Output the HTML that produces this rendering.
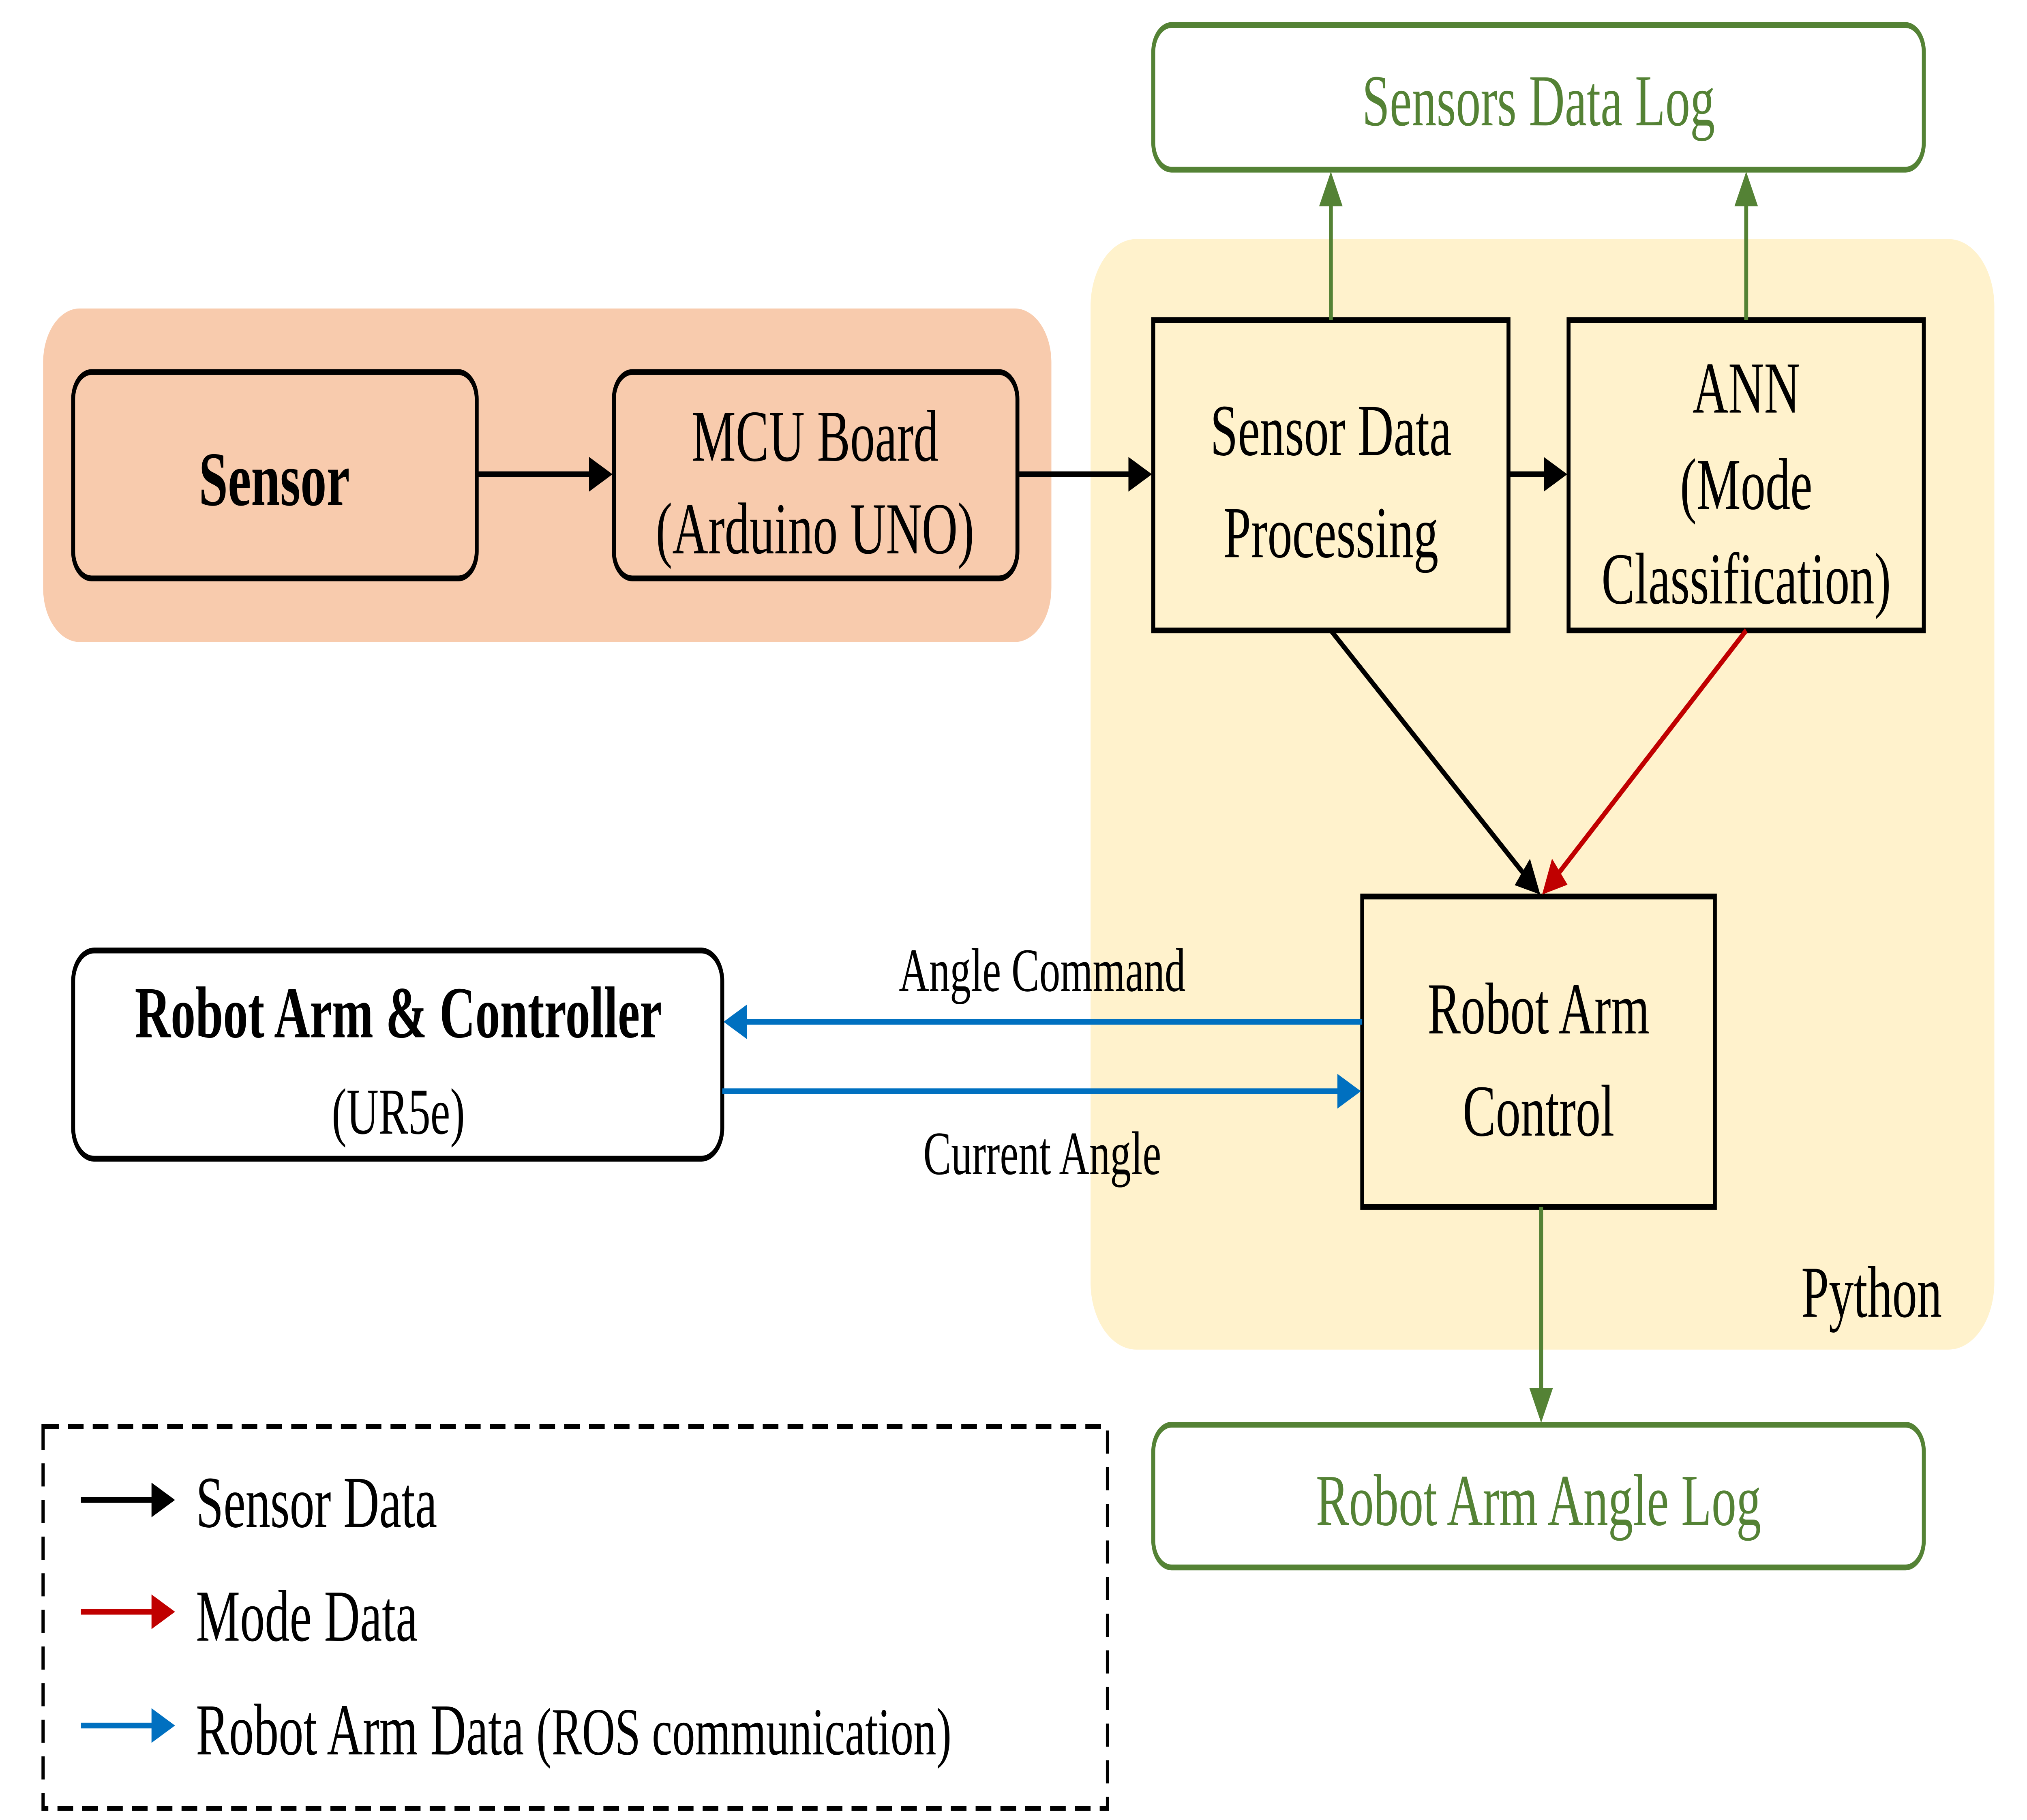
<!DOCTYPE html>
<html><head><meta charset="utf-8"><style>
html,body{margin:0;padding:0;background:#fff;width:100%;height:100%;overflow:hidden;}
svg{display:block;width:100vw;height:100vh;}
text{font-family:"Liberation Serif",serif;}
</style></head><body>
<svg viewBox="0 0 1552 944" preserveAspectRatio="none" xmlns="http://www.w3.org/2000/svg">
<defs>
<marker id="ak" markerWidth="6" markerHeight="6" refX="5" refY="3" orient="auto" markerUnits="strokeWidth"><path d="M0,0 L6,3 L0,6 z" fill="#000"/></marker>
<marker id="ar" markerWidth="6" markerHeight="6" refX="5" refY="3" orient="auto" markerUnits="strokeWidth"><path d="M0,0 L6,3 L0,6 z" fill="#C00000"/></marker>
<marker id="ab" markerWidth="6" markerHeight="6" refX="5" refY="3" orient="auto" markerUnits="strokeWidth"><path d="M0,0 L6,3 L0,6 z" fill="#0070C0"/></marker>
<marker id="ag" markerWidth="6" markerHeight="6" refX="5" refY="3" orient="auto" markerUnits="strokeWidth"><path d="M0,0 L6,3 L0,6 z" fill="#548235"/></marker>
</defs>
<rect x="0" y="0" width="1552" height="944" fill="#fff"/>
<rect x="33" y="160" width="772" height="173" rx="28" fill="#F8CBAD"/>
<rect x="835" y="124" width="692" height="576" rx="35" fill="#FFF2CC"/>

<rect x="56" y="193" width="309" height="107" rx="14" fill="#F8CBAD" stroke="#000" stroke-width="3"/>
<text x="210" y="262" font-size="40" font-weight="bold" text-anchor="middle">Sensor</text>
<rect x="470" y="193" width="309" height="107" rx="14" fill="#F8CBAD" stroke="#000" stroke-width="3"/>
<text x="624" y="239" font-size="38" text-anchor="middle">MCU Board</text>
<text x="624" y="287" font-size="38" text-anchor="middle">(Arduino UNO)</text>

<rect x="883" y="166" width="272" height="161" fill="#FFF2CC" stroke="#000" stroke-width="3"/>
<text x="1019" y="236" font-size="38" text-anchor="middle">Sensor Data</text>
<text x="1019" y="289" font-size="38" text-anchor="middle">Processing</text>
<rect x="1201" y="166" width="272" height="161" fill="#FFF2CC" stroke="#000" stroke-width="3"/>
<text x="1337" y="214" font-size="38" text-anchor="middle">ANN</text>
<text x="1337" y="264" font-size="38" text-anchor="middle">(Mode</text>
<text x="1337" y="313" font-size="38" text-anchor="middle">Classification)</text>
<rect x="1043" y="465" width="270" height="161" fill="#FFF2CC" stroke="#000" stroke-width="3"/>
<text x="1178" y="536" font-size="38" text-anchor="middle">Robot Arm</text>
<text x="1178" y="589" font-size="38" text-anchor="middle">Control</text>

<rect x="883" y="13" width="590" height="75" rx="14" fill="#fff" stroke="#548235" stroke-width="3"/>
<text x="1178" y="65" font-size="38" fill="#548235" text-anchor="middle">Sensors Data Log</text>
<rect x="883" y="739" width="590" height="74" rx="14" fill="#fff" stroke="#548235" stroke-width="3"/>
<text x="1178" y="791" font-size="38" fill="#548235" text-anchor="middle">Robot Arm Angle Log</text>

<rect x="56" y="493" width="497" height="108" rx="16" fill="#fff" stroke="#000" stroke-width="3"/>
<text x="305" y="538" font-size="38" font-weight="bold" text-anchor="middle">Robot Arm &amp; Controller</text>
<text x="305" y="588" font-size="34" text-anchor="middle">(UR5e)</text>

<g stroke-width="3" fill="none">
<line x1="365" y1="246" x2="466" y2="246" stroke="#000" marker-end="url(#ak)"/>
<line x1="779" y1="246" x2="879" y2="246" stroke="#000" marker-end="url(#ak)"/>
<line x1="1155" y1="246" x2="1197" y2="246" stroke="#000" marker-end="url(#ak)"/>
<line x1="1019" y1="166" x2="1019" y2="92" stroke="#548235" marker-end="url(#ag)"/>
<line x1="1337" y1="166" x2="1337" y2="92" stroke="#548235" marker-end="url(#ag)"/>
<line x1="1019" y1="327" x2="1177" y2="462" stroke="#000" marker-end="url(#ak)"/>
<line x1="1337" y1="327" x2="1183" y2="462" stroke="#C00000" marker-end="url(#ar)"/>
<line x1="1043" y1="530" x2="557" y2="530" stroke="#0070C0" marker-end="url(#ab)"/>
<line x1="553" y1="566" x2="1039" y2="566" stroke="#0070C0" marker-end="url(#ab)"/>
<line x1="1180" y1="626" x2="1180" y2="735" stroke="#548235" marker-end="url(#ag)"/>
</g>
<text x="798" y="514" font-size="32" text-anchor="middle">Angle Command</text>
<text x="798" y="609" font-size="32" text-anchor="middle">Current Angle</text>
<text x="1433" y="683" font-size="38" text-anchor="middle">Python</text>

<rect x="33" y="740" width="815" height="198" fill="none" stroke="#000" stroke-width="2.5" stroke-dasharray="12,7"/>
<g stroke-width="3">
<line x1="62" y1="778" x2="131" y2="778" stroke="#000" marker-end="url(#ak)"/>
<line x1="62" y1="836" x2="131" y2="836" stroke="#C00000" marker-end="url(#ar)"/>
<line x1="62" y1="895" x2="131" y2="895" stroke="#0070C0" marker-end="url(#ab)"/>
</g>
<text x="150" y="792" font-size="38">Sensor Data</text>
<text x="150" y="851" font-size="38">Mode Data</text>
<text x="150" y="910" font-size="38">Robot Arm Data <tspan font-size="35">(ROS communication)</tspan></text>
</svg>
</body></html>
